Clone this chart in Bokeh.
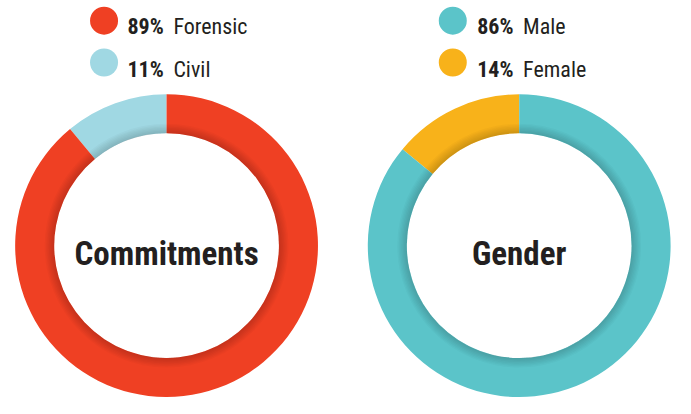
import numpy as np
from bokeh.plotting import figure
from bokeh.models import Range1d
from bokeh.core.properties import value
from bokeh.embed import file_html
from bokeh.resources import INLINE

# ---- data ----
commit_labels = ["Civil", "Forensic"]
commit_values = [11, 89]
commit_colors = ["#A0D8E3", "#EF4023"]

gender_labels = ["Female", "Male"]
gender_values = [14, 86]
gender_colors = ["#F8B21A", "#5BC4C9"]

chart_titles = ["Commitments", "Gender"]

W, H = 691, 414
p = figure(width=675, height=398, output_backend="svg", toolbar_location=None,
           x_range=Range1d(0, W), y_range=Range1d(0, H),
           min_border=0)
p.axis.visible = False
p.grid.visible = False
p.outline_line_color = None
p.background_fill_color = "white"

TXT = "#231F20"
FONT = "Roboto Condensed, Liberation Sans Narrow, Roboto"

def donut(cx, cy_ref, labels, vals, colors, title):
    cy = H - cy_ref
    vals = np.array(vals, dtype=float)
    frac = vals / vals.sum()
    ends = np.cumsum(frac) * 2 * np.pi + np.pi / 2
    starts = np.concatenate([[np.pi / 2], ends[:-1]])
    p.annular_wedge(x=[cx] * len(vals), y=[cy] * len(vals), inner_radius=115, outer_radius=155,
                    start_angle=list(starts), end_angle=list(ends), direction="anticlock",
                    fill_color=colors, line_color=None)
    # soft inner shadow
    for k in range(1, 8):
        p.annulus(x=[cx], y=[cy], inner_radius=115, outer_radius=115 + k * 1.4,
                  fill_color="black", fill_alpha=0.025, line_color=None)
    p.text(x=[cx], y=[H - 263], text=[title], text_font=value(FONT),
           text_font_style="bold", text_font_size="33px", text_color=TXT,
           text_align="center", text_baseline="alphabetic")

def legend(cx_dot, x_pct, x_lab, labels, vals, colors):
    rows_y = [21, 64.5]
    base_y = [27.5, 72]
    order = [1, 0]
    for r, i in enumerate(order):
        p.scatter(x=[cx_dot], y=[H - rows_y[r]], size=28, marker="circle",
                  fill_color=colors[i], line_color=None)
        p.text(x=[x_pct], y=[H - base_y[r]], text=[f"{vals[i]}%"], text_font=value(FONT),
               text_font_style="bold", text_font_size="22px", text_color=TXT,
               text_baseline="alphabetic")
        p.text(x=[x_lab], y=[H - base_y[r]], text=[labels[i]], text_font=value(FONT),
               text_font_size="22px", text_color=TXT, text_baseline="alphabetic")

donut(170, 255, commit_labels, commit_values, commit_colors, chart_titles[0])
donut(531, 255, gender_labels, gender_values, gender_colors, chart_titles[1])
legend(106, 130, 177, commit_labels, commit_values, commit_colors)
legend(463, 488, 535, gender_labels, gender_values, gender_colors)

open("out.html", "w").write(file_html(p, INLINE))
